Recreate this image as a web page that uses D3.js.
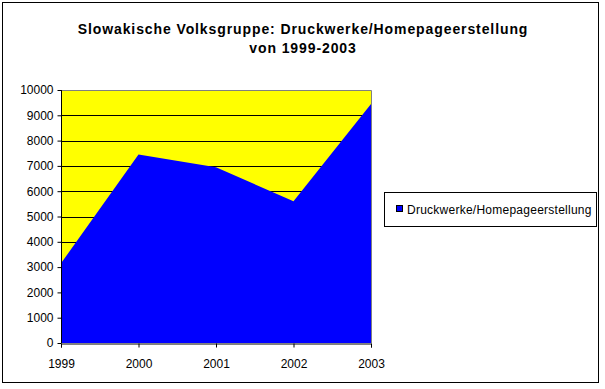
<!DOCTYPE html>
<html><head><meta charset="utf-8">
<script src="https://cdn.jsdelivr.net/npm/d3@7"></script>
<style>body{margin:0;background:#fff}svg{display:block}text{font-family:"Liberation Sans",Arial,sans-serif}</style>
</head><body>
<script>
const years = ["1999","2000","2001","2002","2003"];
const values = [3150, 7450, 6950, 5600, 9450];
const yTicks = [0,1000,2000,3000,4000,5000,6000,7000,8000,9000,10000];
const seriesName = "Druckwerke/Homepageerstellung";
const titleLines = ["Slowakische Volksgruppe: Druckwerke/Homepageerstellung","von 1999-2003"];

(function(){
const W=605,H=389;
const svg=d3.select("body").append("svg").attr("width",W).attr("height",H);
svg.append("rect").attr("x",2.5).attr("y",2.5).attr("width",596).attr("height",380).attr("fill","#fff").attr("stroke","#000");

const pl=61,pr=371,pt=90,pb=343;
const x=d3.scalePoint().domain(years).range([pl,pr]);
const y=d3.scaleLinear().domain([0,10000]).range([pb,pt]);

svg.append("rect").attr("x",pl).attr("y",pt).attr("width",pr-pl).attr("height",pb-pt).attr("fill","#ffff00");
svg.append("g").selectAll("line").data(yTicks.filter(d=>d>0&&d<10000)).join("line")
  .attr("x1",pl).attr("x2",pr).attr("y1",d=>Math.round(y(d))+0.5).attr("y2",d=>Math.round(y(d))+0.5).attr("stroke","#000");
const area=d3.area().x((d,i)=>x(years[i])).y0(pb).y1(d=>y(d));
svg.append("path").datum(values).attr("d",area).attr("fill","#0000ff");
svg.append("path").attr("d",`M${pl},${pt+0.5}H${pr+0.5}V${pb}`).attr("fill","none").attr("stroke","#808080");

const ya=svg.append("g").attr("transform",`translate(${pl+0.5},0)`).call(d3.axisLeft(y).tickValues(yTicks).tickSize(4).tickPadding(4).tickFormat(d3.format("d")));
const xa=svg.append("g").attr("transform",`translate(0,${pb+0.5})`).call(d3.axisBottom(x).tickSize(4).tickPadding(12));
[ya,xa].forEach(a=>{a.selectAll("text").attr("font-size",12).attr("fill","#000").attr("font-family","Liberation Sans, Arial, sans-serif");a.selectAll("line,path").attr("stroke","#000");});
ya.select(".domain").attr("d",`M0,${pt}V${pb}`);

svg.append("g").selectAll("text").data(titleLines).join("text")
  .attr("x",303).attr("y",(d,i)=>34+i*19).attr("text-anchor","middle").attr("font-size",14).attr("font-weight","bold").attr("letter-spacing",0.9).text(d=>d);

const lg=svg.append("g");
lg.append("rect").attr("x",384.5).attr("y",192.5).attr("width",212).attr("height",34).attr("fill","#fff").attr("stroke","#000");
lg.append("rect").attr("x",396.5).attr("y",205.5).attr("width",6).attr("height",6).attr("fill","#0000ff").attr("stroke","#000");
lg.append("text").attr("x",407).attr("y",214).attr("font-size",12).attr("letter-spacing",0.25).text(seriesName);
})();
</script>
</body></html>
